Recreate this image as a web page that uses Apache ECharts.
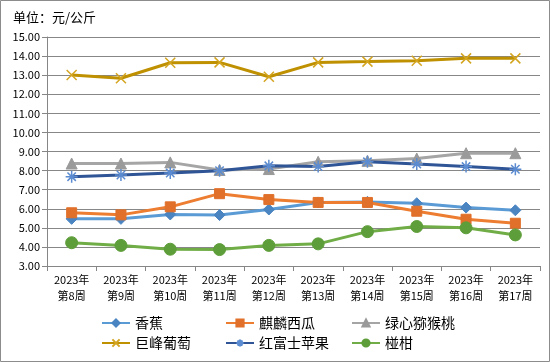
<!DOCTYPE html>
<html><head><meta charset="utf-8">
<script src="https://cdn.jsdelivr.net/npm/echarts@6/dist/echarts.min.js"></script>
<style>html,body{margin:0;padding:0;background:#fff}#c{width:550px;height:362px}</style>
</head><body><div id="c"></div>
<script>
var categories = ['2023年\n第8周','2023年\n第9周','2023年\n第10周','2023年\n第11周','2023年\n第12周','2023年\n第13周','2023年\n第14周','2023年\n第15周','2023年\n第16周','2023年\n第17周'];
var banana = [5.47,5.47,5.70,5.67,5.96,6.33,6.36,6.29,6.06,5.92];
var watermelon = [5.79,5.68,6.10,6.79,6.48,6.33,6.33,5.87,5.45,5.24];
var kiwi = [8.37,8.37,8.43,8.03,8.08,8.46,8.51,8.63,8.91,8.91];
var grape = [13.01,12.84,13.65,13.67,12.92,13.67,13.71,13.76,13.88,13.88];
var apple = [7.68,7.77,7.87,7.99,8.25,8.21,8.46,8.35,8.21,8.07];
var orange = [4.22,4.08,3.88,3.86,4.08,4.16,4.80,5.07,5.00,4.63];
var names = ['香蕉','麒麟西瓜','绿心猕猴桃','巨峰葡萄','红富士苹果','椪柑'];

var font = '"Noto Sans CJK SC", "Noto Sans", sans-serif';
var chart = echarts.init(document.getElementById('c'));
function mk(name, data, lineColor, markColor, symbol, size, extra){
  var s = {name:name, type:'line', data:data, symbol:symbol, symbolSize:size,
    lineStyle:{color:lineColor, width:3}, itemStyle:{color:markColor, borderColor:markColor, borderWidth:1},
    emphasis:{disabled:true}, animation:false, z:3};
  if(extra) Object.assign(s, extra);
  return s;
}
var xPath = 'path://M0,0 L10,10 M10,0 L0,10';
var starPath = 'path://M5,0 L5,10 M0,5 L10,5 M1.5,1.5 L8.5,8.5 M8.5,1.5 L1.5,8.5';
var series = [
  mk(names[0], banana, '#5B9BD5', '#4A85C2', 'diamond', 11),
  mk(names[1], watermelon, '#ED7D31', '#E0702A', 'rect', 10),
  mk(names[2], kiwi, '#A5A5A5', '#9A9A9A', 'triangle', 11),
  mk(names[3], grape, '#BF9000', '#D4A520', xPath, 10, {itemStyle:{color:'none', borderColor:'#D4A520', borderWidth:1.5}}),
  mk(names[4], apple, '#2F5597', '#5B8BD0', starPath, 12, {itemStyle:{color:'none', borderColor:'#5B8BD0', borderWidth:1.5}}),
  mk(names[5], orange, '#70AD47', '#5E9E3A', 'circle', 12)
];
var colX = [101, 225, 351];
var rowY = [316, 336];
var legends = names.map(function(n,i){
  return {data:[n], left:colX[i%3], top:rowY[Math.floor(i/3)], padding:0, itemWidth:28, itemHeight:9, itemGap:5,
    textStyle:{fontFamily:font, fontSize:14, color:'#000', padding:[0,0,0,0]}, selectedMode:false};
});
chart.setOption({
  animation:false,
  backgroundColor:'#fff',
  graphic:[{type:'rect', shape:{x:0.5,y:0.5,width:549,height:361}, style:{fill:'none', stroke:'#8C8C8C', lineWidth:1}, silent:true}],
  title:{text:'单位：元/公斤', left:8, top:6, textStyle:{fontFamily:font, fontSize:13, fontWeight:'normal', color:'#000'}},
  legend:legends,
  grid:{left:47, right:10, top:37, bottom:96, containLabel:false},
  xAxis:{type:'category', data:categories, boundaryGap:true,
    axisLine:{lineStyle:{color:'#868686', width:1}},
    axisTick:{show:true, length:5, lineStyle:{color:'#868686'}},
    axisLabel:{fontFamily:font, fontSize:11, color:'#000', lineHeight:16, margin:6, interval:0}},
  yAxis:{type:'value', min:3, max:15, interval:1,
    axisLine:{show:true, lineStyle:{color:'#868686'}},
    axisTick:{show:true, length:5, lineStyle:{color:'#868686'}},
    splitLine:{lineStyle:{color:'#878787', width:1}},
    axisLabel:{fontFamily:font, fontSize:11, color:'#000', margin:7, formatter:function(v){return v.toFixed(2);}}},
  series:series
});
</script></body></html>
